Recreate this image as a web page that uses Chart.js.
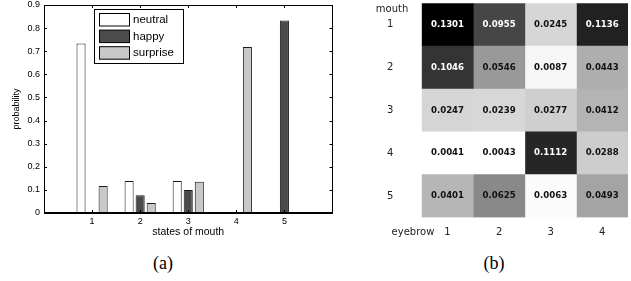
<!DOCTYPE html>
<html>
<head>
<meta charset="utf-8">
<script src="https://cdn.jsdelivr.net/npm/chart.js@4/dist/chart.umd.min.js"></script>
<style>
  html, body { margin: 0; padding: 0; background: #fff; }
  body { width: 631px; height: 281px; position: relative; overflow: hidden; }
  #wa { position: absolute; left: 0; top: 0; width: 340px; height: 245px; }
  #wb { position: absolute; left: 340px; top: 0; width: 291px; height: 245px; }
  .cap { position: absolute; top: 251px; width: 60px; margin-left: -30px; text-align: center;
         font-family: "Liberation Serif", "DejaVu Serif", serif; font-size: 18px; color: #000; line-height: 24px; }
</style>
</head>
<body>
<div id="wa"><canvas id="ca"></canvas></div>
<div id="wb"><canvas id="cb"></canvas></div>
<div class="cap" style="left:163px">(a)</div>
<div class="cap" style="left:494px">(b)</div>
<script>
// ---------- (a) bar chart data ----------
const mouthStates = ['1', '2', '3', '4', '5'];
const neutralProb  = [0.733, 0.138, 0.138, 0.000, 0.000];
const happyProb    = [0.000, 0.077, 0.100, 0.000, 0.833];
const surpriseProb = [0.117, 0.043, 0.135, 0.718, 0.000];
const yTickLabels  = ['0', '0.1', '0.2', '0.3', '0.4', '0.5', '0.6', '0.7', '0.8', '0.9'];

// ---------- (b) heat map data (rows = mouth state, columns = eyebrow state) ----------
const mouthLabels   = ['1', '2', '3', '4', '5'];
const eyebrowLabels = ['1', '2', '3', '4'];
const mouth1 = [0.1301, 0.0955, 0.0245, 0.1136];
const mouth2 = [0.1046, 0.0546, 0.0087, 0.0443];
const mouth3 = [0.0247, 0.0239, 0.0277, 0.0412];
const mouth4 = [0.0041, 0.0043, 0.1112, 0.0288];
const mouth5 = [0.0401, 0.0625, 0.0063, 0.0493];

const SANS = '"Liberation Sans", Arial, sans-serif';
const DJV = '"DejaVu Sans", Verdana, sans-serif';

// ================= chart (a) =================
const padded = arr => [null, ...arr, null];
const xLabels = ['', ...mouthStates, ''];

const framePlugin = {
  id: 'frame',
  afterDatasetsDraw(chart) {
    const {ctx, chartArea: a, scales: {x, y}} = chart;
    ctx.save();
    ctx.strokeStyle = '#000';
    ctx.lineWidth = 1;
    ctx.strokeRect(Math.round(a.left) + 0.5, Math.round(a.top) + 0.5,
                   Math.round(a.right - a.left) - 1, Math.round(a.bottom - a.top));
    // inward ticks
    ctx.beginPath();
    for (let i = 1; i <= mouthStates.length; i++) {
      const px = Math.round(x.getPixelForValue(i)) + 0.5;
      ctx.moveTo(px, a.bottom); ctx.lineTo(px, a.bottom - 3);
      ctx.moveTo(px, a.top); ctx.lineTo(px, a.top + 3);
    }
    for (let i = 1; i < yTickLabels.length - 1; i++) {
      const py = Math.round(y.getPixelForValue(i / 10)) + 0.5;
      ctx.moveTo(a.left, py); ctx.lineTo(a.left + 3, py);
      ctx.moveTo(a.right, py); ctx.lineTo(a.right - 3, py);
    }
    ctx.stroke();
    // baseline
    ctx.lineWidth = 2;
    ctx.beginPath();
    const by = Math.round(y.getPixelForValue(0));
    ctx.moveTo(a.left, by); ctx.lineTo(a.right, by);
    ctx.stroke();
    ctx.restore();
  },
  afterDraw(chart) {
    // boxed legend inside plot
    const {ctx} = chart;
    ctx.save();
    const bx = 94.5, bt = 9.5, bw = 89, bh = 54;
    ctx.fillStyle = '#fff';
    ctx.fillRect(bx, bt, bw, bh);
    ctx.strokeStyle = '#000';
    ctx.lineWidth = 1;
    ctx.strokeRect(bx, bt, bw, bh);
    ctx.font = '11.5px ' + SANS;
    ctx.textBaseline = 'middle';
    ctx.textAlign = 'left';
    chart.data.datasets.forEach((ds, i) => {
      const top = 13.5 + i * 16.6;
      ctx.fillStyle = ds.backgroundColor;
      ctx.fillRect(99.5, top, 30, 12.5);
      ctx.strokeStyle = '#000';
      ctx.strokeRect(99.5, top, 30, 12.5);
      ctx.fillStyle = '#000';
      ctx.fillText(ds.label, 133, top + 6.5);
    });
    ctx.restore();
  }
};

new Chart(document.getElementById('ca'), {
  type: 'bar',
  data: {
    labels: xLabels,
    datasets: [
      { label: 'neutral',  data: padded(neutralProb),  backgroundColor: '#ffffff', borderColor: '#1a1a1a', borderWidth: 1 },
      { label: 'happy',    data: padded(happyProb),    backgroundColor: '#4b4b4b', borderColor: '#1a1a1a', borderWidth: 1 },
      { label: 'surprise', data: padded(surpriseProb), backgroundColor: '#c8c8c8', borderColor: '#1a1a1a', borderWidth: 1 }
    ]
  },
  options: {
    responsive: true,
    maintainAspectRatio: false,
    animation: false,
    categoryPercentage: 0.69,
    barPercentage: 0.82,
    layout: { padding: { left: 0, right: 7.5, top: 5, bottom: 0 } },
    plugins: { legend: { display: false }, tooltip: { enabled: false } },
    scales: {
      x: {
        type: 'category',
        offset: false,
        grid: { display: false, drawTicks: false },
        border: { display: false },
        ticks: { autoSkip: false, maxRotation: 0, padding: 3.5, color: '#000', font: { family: SANS, size: 9 } },
        title: { display: true, text: 'states of mouth', color: '#000', font: { family: SANS, size: 10.5 }, padding: { top: 0, bottom: 6.5 } },
        afterFit(s) { s.height = 32; s.paddingLeft = 0; s.paddingRight = 0; }
      },
      y: {
        min: 0, max: 0.9,
        grid: { display: false, drawTicks: false },
        border: { display: false },
        ticks: { stepSize: 0.1, padding: 4, color: '#000', font: { family: SANS, size: 9 },
                 callback: (v, i) => yTickLabels[i] },
        title: { display: true, text: 'probability', color: '#000', font: { family: SANS, size: 9 }, padding: { top: 11.5, bottom: 0 } },
        afterFit(s) { s.width = 44; s.paddingTop = 0; s.paddingBottom = 0; }
      }
    }
  },
  plugins: [framePlugin]
});

// ================= chart (b) =================
const heat = [mouth1, mouth2, mouth3, mouth4, mouth5];
const allVals = heat.flat();
const vMin = Math.min(...allVals), vMax = Math.max(...allVals);
const grayOf = v => Math.round(255 * (1 - (v - vMin) / (vMax - vMin)));
const colorOf = v => { const g = grayOf(v); return `rgb(${g},${g},${g})`; };

const heatDatasets = eyebrowLabels.map((lab, j) => ({
  label: 'eyebrow ' + lab,
  data: heat.map(() => [j, j + 1]),
  values: heat.map(row => row[j]),
  backgroundColor: heat.map(row => colorOf(row[j])),
  borderWidth: 0
}));

const cellTextPlugin = {
  id: 'cellText',
  afterDatasetsDraw(chart) {
    const {ctx} = chart;
    ctx.save();
    ctx.font = 'bold 8.6px ' + DJV;
    ctx.textAlign = 'center';
    ctx.textBaseline = 'middle';
    chart.data.datasets.forEach((ds, di) => {
      chart.getDatasetMeta(di).data.forEach((el, i) => {
        const v = ds.values[i];
        ctx.fillStyle = grayOf(v) < 110 ? '#ffffff' : '#111111';
        ctx.fillText(v.toFixed(4), (el.x + el.base) / 2, el.y);
      });
    });
    ctx.restore();
  },
  afterDraw(chart) {
    const {ctx} = chart;
    ctx.save();
    ctx.font = '10px ' + DJV;
    ctx.fillStyle = '#222';
    ctx.textAlign = 'center';
    ctx.textBaseline = 'middle';
    ctx.fillText('mouth', 52, 9.5);
    ctx.fillText('eyebrow', 73, 232);
    ctx.restore();
  }
};

new Chart(document.getElementById('cb'), {
  type: 'bar',
  data: { labels: mouthLabels, datasets: heatDatasets },
  options: {
    indexAxis: 'y',
    responsive: true,
    maintainAspectRatio: false,
    animation: false,
    grouped: false,
    categoryPercentage: 1,
    barPercentage: 1,
    layout: { padding: { left: 47, right: 3, top: 3.3, bottom: 0 } },
    plugins: { legend: { display: false }, tooltip: { enabled: false } },
    scales: {
      y: {
        type: 'category',
        grid: { display: false, drawTicks: false },
        border: { display: false },
        ticks: { padding: 0, crossAlign: 'far', color: '#222', font: { family: DJV, size: 10 } },
        afterFit(s) { s.width = 34.7; s.paddingTop = 0; s.paddingBottom = 0; }
      },
      x: {
        type: 'linear',
        min: 0, max: eyebrowLabels.length,
        grid: { display: false, drawTicks: false },
        border: { display: false },
        afterBuildTicks(s) { s.ticks = eyebrowLabels.map((l, i) => ({ value: i + 0.5 })); },
        ticks: { autoSkip: false, maxRotation: 0, padding: 8.5, color: '#222', font: { family: DJV, size: 10 },
                 callback: (v, i) => eyebrowLabels[i] },
        afterFit(s) { s.height = 27.5; s.paddingLeft = 0; s.paddingRight = 0; }
      }
    }
  },
  plugins: [cellTextPlugin]
});
</script>
</body>
</html>
